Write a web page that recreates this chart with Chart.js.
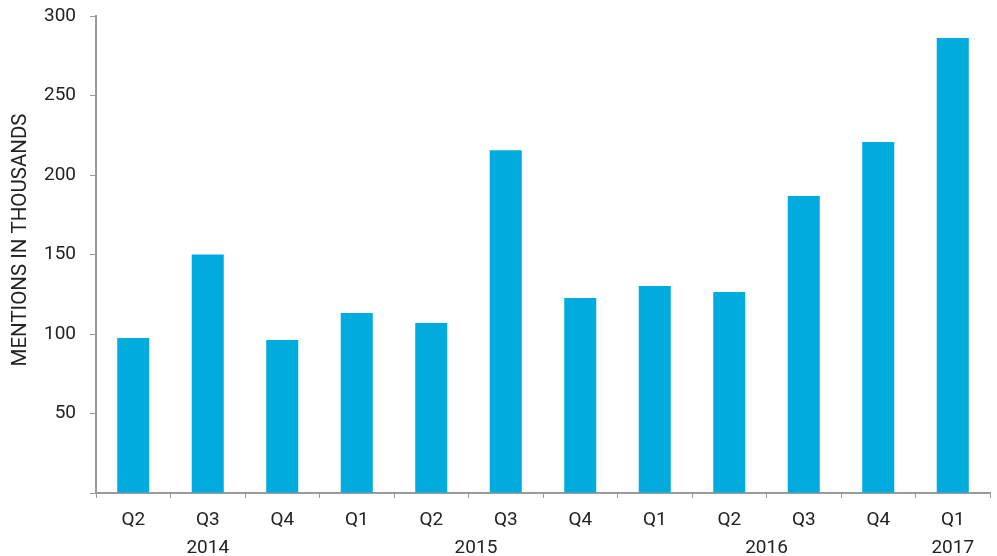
<!DOCTYPE html>
<html lang="en">
<head>
    <meta charset="UTF-8">
    <title>Mentions in thousands</title>
    <script src="https://cdn.jsdelivr.net/npm/chart.js"></script>
    <style>
        html, body { margin: 0; padding: 0; background: #fff; }
        .chart-container { position: relative; width: 997px; height: 556px; }
    </style>
</head>
<body>
    <div class="chart-container"><canvas id="chart"></canvas></div>

    <script>
        const quarters = ['Q2', 'Q3', 'Q4', 'Q1', 'Q2', 'Q3', 'Q4', 'Q1', 'Q2', 'Q3', 'Q4', 'Q1'];
        const mentions = [97.5, 150, 96.2, 113.2, 106.9, 215.5, 122.6, 130.2, 126.4, 186.8, 220.8, 286.2];
        // year labels and where they sit, in category units
        const years = ['2014', '2015', '2016', '2017'];
        const yearAt = [1, 4.6, 8.5, 11];
        const yTitle = 'MENTIONS IN THOUSANDS';

        const axisColor = '#9a9a9a';
        const textColor = '#222';

        // year row under the quarter labels, plus the rotated y title
        const extraLabels = {
            id: 'extraLabels',
            afterDraw: (chart) => {
                const ctx = chart.ctx;
                const x = chart.scales.x;
                ctx.save();
                ctx.font = '19px Roboto';
                ctx.fillStyle = textColor;
                ctx.textAlign = 'center';
                ctx.textBaseline = 'middle';
                years.forEach((y, i) => {
                    ctx.fillText(y, x.getPixelForValue(yearAt[i]), 548);
                });

                ctx.translate(21, 240);
                ctx.rotate(-Math.PI / 2);
                ctx.font = '20.5px Roboto';
                ctx.fillText(yTitle, 0, 0);
                ctx.restore();
            }
        };

        new Chart(document.getElementById('chart').getContext('2d'), {
            type: 'bar',
            data: {
                labels: quarters,
                datasets: [{
                    data: mentions,
                    backgroundColor: '#00acde',
                    barPercentage: 0.43,
                    categoryPercentage: 1
                }]
            },
            options: {
                responsive: true,
                maintainAspectRatio: false,
                animation: false,
                layout: { padding: { top: 16, right: 7, left: 0, bottom: 0 } },
                plugins: { legend: { display: false }, tooltip: { enabled: false } },
                scales: {
                    x: {
                        afterFit: (s) => { s.height = 63; },
                        grid: { drawOnChartArea: false, drawTicks: true, tickLength: 5, color: axisColor, offset: true },
                        border: { color: axisColor, width: 2 },
                        ticks: { color: textColor, font: { family: 'Roboto', size: 19 }, padding: 11, maxRotation: 0 }
                    },
                    y: {
                        min: 0,
                        max: 300,
                        afterFit: (s) => { s.width = 96; s.paddingTop = 0; s.paddingBottom = 0; },
                        grid: { drawOnChartArea: false, drawTicks: true, tickLength: 6, color: axisColor },
                        border: { color: axisColor, width: 2 },
                        ticks: {
                            stepSize: 50,
                            color: textColor,
                            font: { family: 'Roboto', size: 19 },
                            padding: 14,
                            callback: (v) => v === 0 ? '' : v
                        }
                    }
                }
            },
            plugins: [extraLabels]
        });
    </script>
</body>
</html>
